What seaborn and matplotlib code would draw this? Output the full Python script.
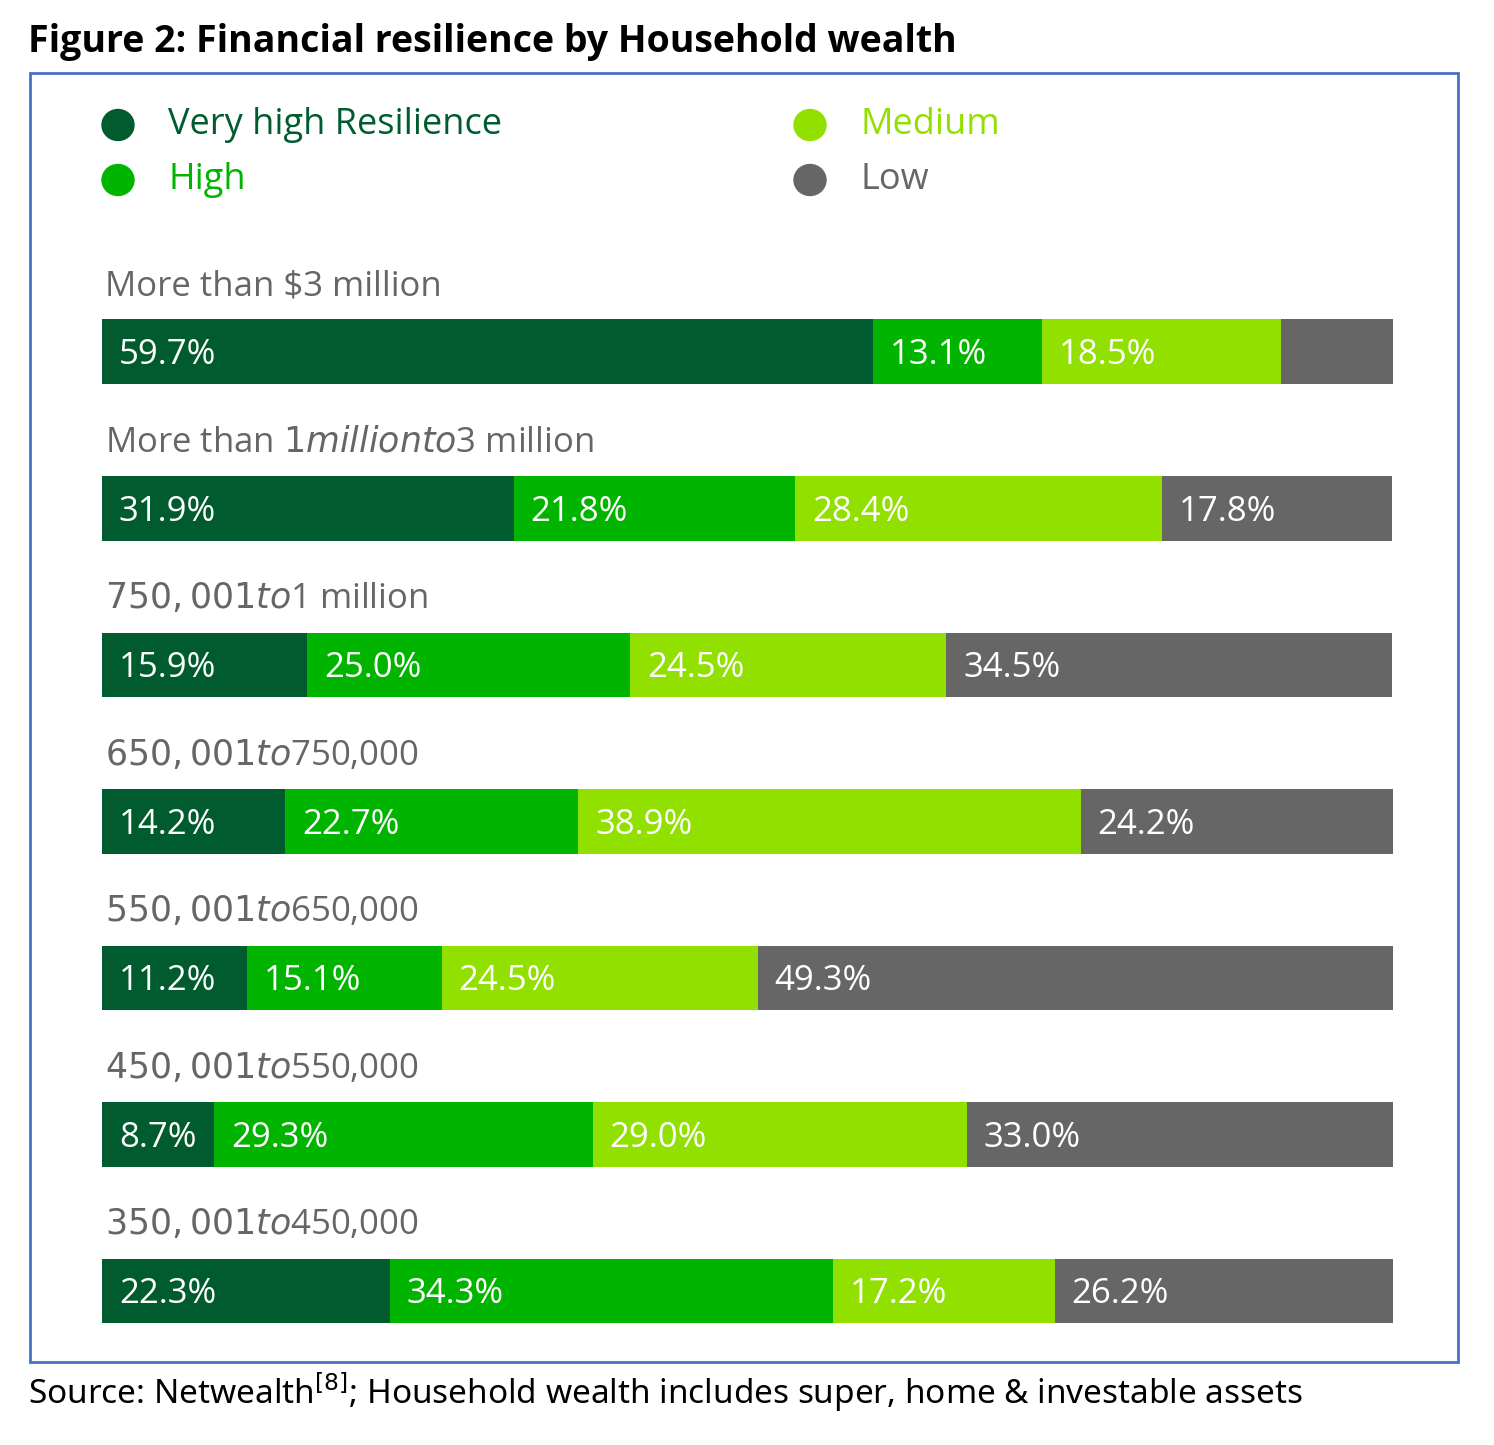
import matplotlib
matplotlib.use('Agg')
import matplotlib.pyplot as plt
import matplotlib.patches as mpatches
import numpy as np
import pandas as pd
import seaborn as sns

groups = ['More than $3 million', 'More than $1 million to $3 million',
          '$750,001 to $1 million', '$650,001 to $750,000',
          '$550,001 to $650,000', '$450,001 to $550,000',
          '$350,001 to $450,000']
very_high = [59.7, 31.9, 15.9, 14.2, 11.2, 8.7, 22.3]
high = [13.1, 21.8, 25.0, 22.7, 15.1, 29.3, 34.3]
medium = [18.5, 28.4, 24.5, 38.9, 24.5, 29.0, 17.2]
low = [8.7, 17.8, 34.5, 24.2, 49.3, 33.0, 26.2]
show_low = [False, True, True, True, True, True, True]

series = ['Very high Resilience', 'High', 'Medium', 'Low']
colors = ['#005C2E', '#00B400', '#92E000', '#666666']
TXT = '#666666'

sns.set_theme(style='white')
plt.rcParams['font.family'] = ['Open Sans', 'DejaVu Sans']

W, H = 1494, 1445
fig = plt.figure(figsize=(W / 100, H / 100), dpi=100)

# axes: pixel x 102..1393, y 200..1340
ax = fig.add_axes([102 / W, 1 - 1340 / H, (1393 - 102) / W, (1340 - 200) / H])

df = pd.DataFrame({'group': groups, 'vh': very_high, 'h': high, 'm': medium, 'l': low})
vals = df[['vh', 'h', 'm', 'l']].to_numpy()
cum = np.cumsum(vals, axis=1)
for k in range(3, -1, -1):
    sns.barplot(x=cum[:, k], y=df['group'], orient='h', color=colors[k],
                width=0.415, saturation=1, ax=ax, linewidth=0)

starts = np.hstack([np.zeros((len(groups), 1)), cum[:, :-1]])
for i in range(len(groups)):
    for k in range(4):
        if k == 3 and not show_low[i]:
            continue
        ax.text(starts[i, k] + 1.3, i + 0.02, f'{vals[i, k]:.1f}%', color='white',
                fontsize=25, va='center', ha='left')
    ax.text(0.2, i - 0.42, groups[i], color=TXT, fontsize=25, va='center', ha='left')

ax.set_xlim(0, 100)
ax.set_ylim(6.313, -0.971)
ax.axis('off')

# legend
leg = [(118, 125, 0), (118, 180, 1), (810, 125, 2), (810, 180, 3)]
for px, py, k in leg:
    fig.patches.append(mpatches.Circle((px / W, 1 - py / H), 16 / W, transform=fig.transFigure,
                                       color=colors[k], figure=fig))
    fig.text((px + 50) / W, 1 - py / H, series[k], color=colors[k] if k < 3 else TXT,
             fontsize=26, va='center', ha='left')

# frame
fig.patches.append(mpatches.Rectangle((30 / W, 1 - 1362 / H), (1458 - 30) / W, (1362 - 73) / H,
                                      transform=fig.transFigure, fill=False,
                                      edgecolor='#4472C4', linewidth=2, figure=fig))

fig.text(28 / W, 1 - 42 / H, 'Figure 2: Financial resilience by Household wealth',
         fontsize=27, fontweight='bold', color='black', va='center', ha='left')
fig.text(28 / W, 1 - 1392 / H,
         'Source: Netwealth$^{[8]}$; Household wealth includes super, home & investable assets',
         fontsize=24, color='black', va='center', ha='left', family=['Noto Sans', 'DejaVu Sans'])

fig.savefig('out.png', dpi=100, facecolor='white')
